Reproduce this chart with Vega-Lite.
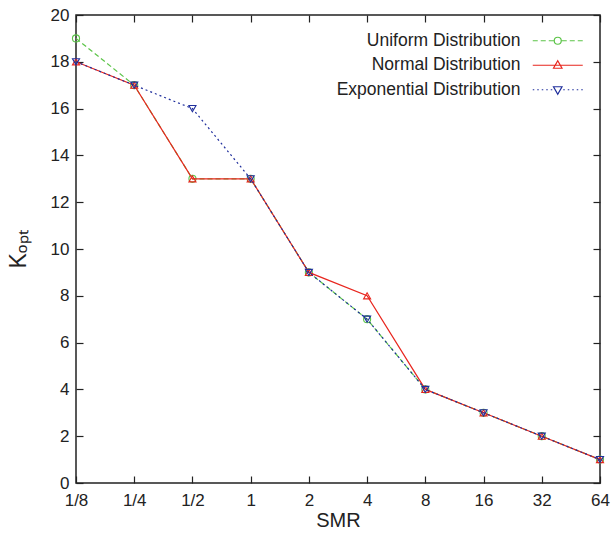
{
  "$schema": "https://vega.github.io/schema/vega-lite/v6.json",
  "width": 524,
  "height": 468,
  "autosize": "none",
  "padding": {"left": 76, "top": 15, "right": 11, "bottom": 54},
  "background": "white",
  "data": {
    "values": [
      {"smr": "1/8", "series": "Uniform Distribution", "k": 19},
      {"smr": "1/4", "series": "Uniform Distribution", "k": 17},
      {"smr": "1/2", "series": "Uniform Distribution", "k": 13},
      {"smr": "1", "series": "Uniform Distribution", "k": 13},
      {"smr": "2", "series": "Uniform Distribution", "k": 9},
      {"smr": "4", "series": "Uniform Distribution", "k": 7},
      {"smr": "8", "series": "Uniform Distribution", "k": 4},
      {"smr": "16", "series": "Uniform Distribution", "k": 3},
      {"smr": "32", "series": "Uniform Distribution", "k": 2},
      {"smr": "64", "series": "Uniform Distribution", "k": 1},
      {"smr": "1/8", "series": "Normal Distribution", "k": 18},
      {"smr": "1/4", "series": "Normal Distribution", "k": 17},
      {"smr": "1/2", "series": "Normal Distribution", "k": 13},
      {"smr": "1", "series": "Normal Distribution", "k": 13},
      {"smr": "2", "series": "Normal Distribution", "k": 9},
      {"smr": "4", "series": "Normal Distribution", "k": 8},
      {"smr": "8", "series": "Normal Distribution", "k": 4},
      {"smr": "16", "series": "Normal Distribution", "k": 3},
      {"smr": "32", "series": "Normal Distribution", "k": 2},
      {"smr": "64", "series": "Normal Distribution", "k": 1},
      {"smr": "1/8", "series": "Exponential Distribution", "k": 18},
      {"smr": "1/4", "series": "Exponential Distribution", "k": 17},
      {"smr": "1/2", "series": "Exponential Distribution", "k": 16},
      {"smr": "1", "series": "Exponential Distribution", "k": 13},
      {"smr": "2", "series": "Exponential Distribution", "k": 9},
      {"smr": "4", "series": "Exponential Distribution", "k": 7},
      {"smr": "8", "series": "Exponential Distribution", "k": 4},
      {"smr": "16", "series": "Exponential Distribution", "k": 3},
      {"smr": "32", "series": "Exponential Distribution", "k": 2},
      {"smr": "64", "series": "Exponential Distribution", "k": 1}
    ]
  },
  "layer": [
    {
      "mark": {"type": "point", "opacity": 0},
      "encoding": {
        "x": {"field": "smr", "type": "ordinal", "scale": {"type": "point", "padding": 0, "domain": ["1/8", "1/4", "1/2", "1", "2", "4", "8", "16", "32", "64"]},
          "axis": {"orient": "bottom", "title": "SMR", "labelAngle": 0, "tickSize": -7, "labelPadding": 16, "titlePadding": 2}},
        "y": {"field": "k", "type": "quantitative", "scale": {"domain": [0, 20]},
          "axis": {"orient": "left", "title": "Kₒₚₜ", "values": [0, 2, 4, 6, 8, 10, 12, 14, 16, 18, 20], "tickSize": -7, "labelPadding": 14, "titlePadding": 20, "titleFontSize": 23}}
      }
    },
    {
      "mark": {"type": "point", "opacity": 0},
      "encoding": {
        "x": {"field": "smr", "type": "ordinal", "scale": {"type": "point", "padding": 0, "domain": ["1/8", "1/4", "1/2", "1", "2", "4", "8", "16", "32", "64"]},
          "axis": {"orient": "top", "title": null, "labels": false, "tickSize": -7}},
        "y": {"field": "k", "type": "quantitative", "scale": {"domain": [0, 20]},
          "axis": {"orient": "right", "title": null, "labels": false, "values": [0, 2, 4, 6, 8, 10, 12, 14, 16, 18, 20], "tickSize": -7}}
      }
    },
    {
      "transform": [{"filter": "datum.series === 'Uniform Distribution'"}],
      "layer": [
        {
          "mark": {"type": "line", "strokeWidth": 1.2, "strokeDash": [5, 3]},
          "encoding": {
            "x": {"field": "smr", "type": "ordinal", "axis": null},
            "y": {"field": "k", "type": "quantitative", "axis": null},
            "color": {"field": "series", "type": "nominal",
              "scale": {"domain": ["Uniform Distribution", "Normal Distribution", "Exponential Distribution"], "range": ["#5cc448", "#e8261e", "#1f2e9c"]},
              "legend": {"title": null, "orient": "none", "legendX": 473, "legendY": 17, "padding": 0, "symbolSize": 100, "labelOffset": -46, "labelAlign": "right", "labelFontSize": 17.5, "labelFont": "Liberation Sans", "labelColor": "#222", "rowPadding": 5.5, "labelLimit": 400,
                "encode": {"symbols": {"update": {"shape": {"signal": "datum.value === 'Uniform Distribution' ? 'M-5,0H-4M-3.4,0H-2.4M-1.8,0H-0.8M0.8,0H1.8M2.4,0H3.4M4,0H5M0.7,0A0.7,0.7,0,1,1,-0.7,0A0.7,0.7,0,1,1,0.7,0Z' : datum.value === 'Normal Distribution' ? 'M-5,0H5M0,-0.9L0.85,0.6L-0.85,0.6Z' : 'M-5,0H-4.7M-4.1,0H-3.8M-3.2,0H-2.9M-2.3,0H-2M-1.4,0H-1.1M1.1,0H1.4M2,0H2.3M2.9,0H3.2M3.8,0H4.1M4.7,0H5M0,0.9L0.85,-0.6L-0.85,-0.6Z'"}, "fill": {"value": "transparent"}, "strokeDash": {"value": []}, "strokeWidth": {"value": 1.2}, "opacity": {"value": 1}}}}}}
          }
        },
        {
          "mark": {"type": "point", "shape": "circle", "filled": false, "size": 50, "strokeWidth": 1.1, "color": "#5cc448", "opacity": 1},
          "encoding": {
            "x": {"field": "smr", "type": "ordinal", "axis": null},
            "y": {"field": "k", "type": "quantitative", "axis": null}
          }
        }
      ]
    },
    {
      "transform": [{"filter": "datum.series === 'Normal Distribution'"}],
      "layer": [
        {
          "mark": {"type": "line", "strokeWidth": 1.2},
          "encoding": {
            "x": {"field": "smr", "type": "ordinal", "axis": null},
            "y": {"field": "k", "type": "quantitative", "axis": null},
            "color": {"field": "series", "type": "nominal"}
          }
        },
        {
          "mark": {"type": "point", "shape": "triangle-up", "filled": false, "size": 50, "strokeWidth": 1.1, "color": "#e8261e", "opacity": 1},
          "encoding": {
            "x": {"field": "smr", "type": "ordinal", "axis": null},
            "y": {"field": "k", "type": "quantitative", "axis": null}
          }
        }
      ]
    },
    {
      "transform": [{"filter": "datum.series === 'Exponential Distribution'"}],
      "layer": [
        {
          "mark": {"type": "line", "strokeWidth": 1.2, "strokeDash": [2, 3]},
          "encoding": {
            "x": {"field": "smr", "type": "ordinal", "axis": null},
            "y": {"field": "k", "type": "quantitative", "axis": null},
            "color": {"field": "series", "type": "nominal"}
          }
        },
        {
          "mark": {"type": "point", "shape": "triangle-down", "filled": false, "size": 50, "strokeWidth": 1.1, "color": "#1f2e9c", "opacity": 1},
          "encoding": {
            "x": {"field": "smr", "type": "ordinal", "axis": null},
            "y": {"field": "k", "type": "quantitative", "axis": null}
          }
        }
      ]
    }
  ],
  "resolve": {"axis": {"x": "independent", "y": "independent"}},
  "config": {
    "view": {"stroke": "#222", "strokeWidth": 1.5},
    "font": "Liberation Sans",
    "axis": {
      "domain": false,
      "grid": false,
      "tickColor": "#222",
      "tickWidth": 1.2,
      "labelColor": "#222",
      "labelFontSize": 17,
      "labelFont": "Liberation Sans",
      "titleFont": "Liberation Sans",
      "titleFontSize": 20,
      "titleFontWeight": "normal",
      "titleColor": "#222"
    }
  }
}
